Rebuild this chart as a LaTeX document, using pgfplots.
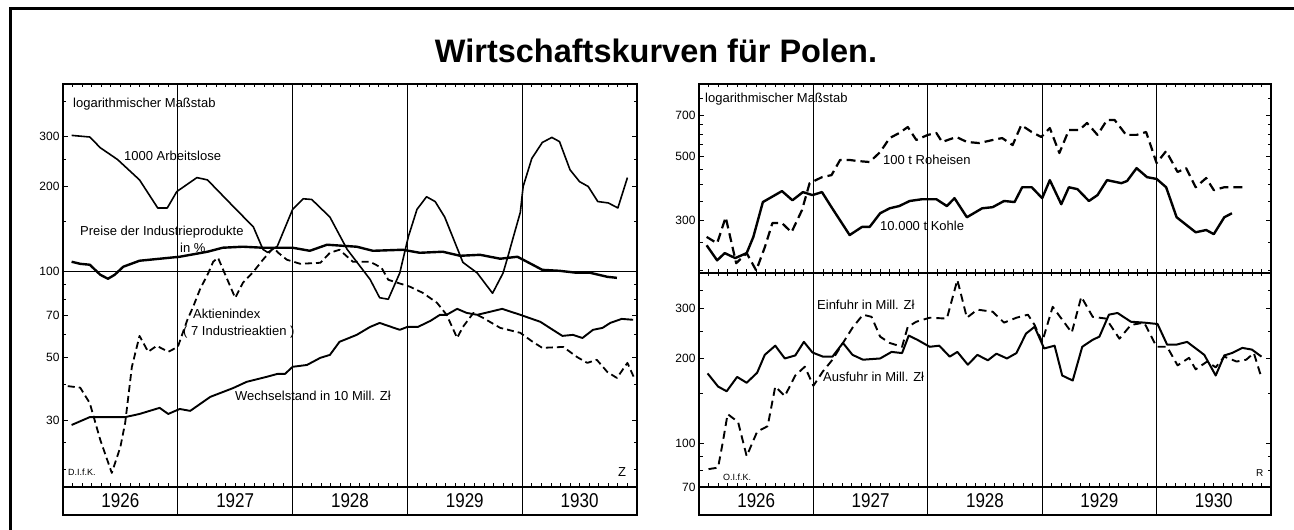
\documentclass[border=0pt]{standalone}
\usepackage{fontspec}
\setmainfont{Liberation Sans}
\usepackage{pgfplots}
\pgfplotsset{compat=1.18}

\tikzset{
  lab/.style={anchor=west, inner sep=0pt, font=\fontsize{13}{13}\selectfont},
  yr/.style={xscale=0.85, font=\fontsize{20}{20}\selectfont},
}

\begin{document}
\begin{tikzpicture}
\path[use as bounding box] (0pt,0pt) rectangle (1294pt,530pt);

% outer frame
\draw[line width=3pt] (10pt,0pt) -- (10pt,521pt) -- (1294pt,521pt);

% title
\node[anchor=base, font=\fontsize{32.5}{32.5}\selectfont\bfseries] at (656pt,467pt) {Wirtschaftskurven für Polen.};

%================ LEFT PANEL =================
\begin{axis}[at={(63pt,43pt)}, anchor=south west,
  scale only axis, clip=false,
  xmin=0, xmax=60, ymode=log,
  width=574pt, height=403pt, ymin=17.4, ymax=460,
  axis line style={line width=1.8pt},
  xtick={12,24,36,48}, xticklabels={}, xmajorgrids,
  major grid style={black, line width=0.9pt},
  minor xtick={1,...,59},
  tick align=inside, major tick length=5pt, minor tick length=3.5pt,
  tick style={black, line width=0.8pt},
  yticklabel style={font=\fontsize{12}{12}\selectfont},
  ytick={30,50,70,200,300}, yticklabels={30,50,70,200,300},
  extra y ticks={100}, extra y tick labels={100},
  extra y tick style={grid=major},
  minor ytick={20,25,40,60,80,90,150,250,400}]
% 1000 Arbeitslose
\addplot[black, no marks, line join=round, line width=1.6pt] coordinates {
(0.9,303) (2.8,299) (3.9,274) (5.7,249) (8.0,211) (9.9,168) (10.9,168) (11.9,192)
(14.0,215) (15.1,211) (17.8,170) (19.9,144) (20.9,120) (21.4,117) (22.4,123)
(24.0,166) (25.1,181) (26.0,180) (27.9,156) (29.7,120) (32.1,94) (33.1,81) (34.0,80)
(35.2,99) (36.1,133) (37.0,166) (38.0,184) (38.9,177) (39.9,156) (41.8,108) (43.3,99)
(44.9,84) (46.0,99) (46.5,113) (47.0,130) (47.8,162) (48.1,200) (49.0,251) (50.1,286)
(51.1,298) (51.9,288) (53.0,229) (54.0,208) (54.9,200) (55.9,177) (57.0,175) (58.0,168)
(59.0,215)};
% Preise der Industrieprodukte
\addplot[black, no marks, line join=round, line width=2.4pt] coordinates {
(0.9,108.5) (1.8,106.7) (2.8,105.9) (3.9,97.6) (4.7,94.5) (5.4,97.6) (6.3,104.2)
(8.0,109.4) (12.2,113.0) (15.1,117.7) (16.7,121.6) (18.8,122.6) (20.9,121.6)
(22.4,121.6) (24.0,121.6) (25.8,118.6) (27.6,124.6) (30.7,122.6) (32.4,118.6)
(35.5,119.6) (37.3,116.7) (39.7,117.7) (41.5,113.9) (43.6,114.8) (45.7,111.2)
(47.5,113.0) (48.5,108.5) (50.1,101.6) (51.9,100.8) (53.7,99.2) (55.1,99.2)
(56.9,96.0) (57.9,95.2)};
% Aktienindex
\addplot[black, no marks, line join=round, line width=1.8pt, dash pattern=on 7pt off 4pt] coordinates {
(0.5,39.5) (1.8,39.0) (2.8,34.4) (3.9,25.5) (5.1,19.5) (6.0,24.1) (6.5,29.3)
(7.2,46.2) (8.0,59.4) (8.9,52.2) (9.8,54.8) (11.0,52.2) (12.0,54.3) (13.0,67.7)
(13.6,75.2) (14.3,86.4) (15.2,99.2) (15.7,108.5) (16.2,112.1) (18.0,80.9) (18.8,91.4)
(19.9,100) (20.9,110.3) (22.0,121.6) (22.5,116.7) (23.4,110.3) (24.8,106.7)
(26.9,107.6) (27.9,116.7) (28.9,119.6) (30.3,108.5) (32.1,108.5) (33.3,103.3)
(34.0,93.7) (36.3,88.5) (37.6,84.3) (39.1,77.7) (40.1,70.5) (41.2,58.4) (41.8,63.9)
(42.9,71.6) (43.9,68.8) (45.7,63.4) (47.8,60.9) (49.1,56.6) (50.1,53.9) (52.3,54.3)
(53.7,50.1) (54.8,47.7) (55.8,48.9) (56.9,44.3) (57.9,42.2) (59.0,47.7) (59.8,41.5)};
% Wechselstand
\addplot[black, no marks, line join=round, line width=1.9pt] coordinates {
(0.9,28.8) (2.8,30.7) (4.9,30.7) (6.5,30.7) (8.0,31.5) (10.1,33.1) (11.0,31.5)
(12.2,32.8) (13.3,32.3) (15.4,36.2) (17.8,38.9) (19.2,40.9) (21.3,42.6) (22.4,43.6)
(23.2,43.6) (24.0,46.2) (25.5,46.9) (26.9,49.7) (27.9,50.9) (28.9,56.6) (30.7,59.9)
(32.1,63.9) (33.1,66.0) (35.2,62.4) (36.0,63.9) (37.1,63.9) (38.4,67.1) (39.4,70.5)
(40.1,70.5) (41.2,74.0) (42.2,71.6) (43.3,70.5) (44.6,72.2) (45.9,74.0) (47.8,70.5)
(49.9,66.6) (51.2,62.4) (52.2,59.4) (53.3,59.9) (54.3,58.4) (55.4,62.4) (56.4,63.4)
(57.2,66.0) (58.4,68.2) (59.6,67.7)};
% year strip
\draw[line width=1.8pt] (rel axis cs:0,0) -- ([yshift=-28pt]rel axis cs:0,0) -- ([yshift=-28pt]rel axis cs:1,0) -- (rel axis cs:1,0);
\draw[line width=0.9pt] (rel axis cs:0.2,0) -- ([yshift=-28pt]rel axis cs:0.2,0);
\draw[line width=0.9pt] (rel axis cs:0.4,0) -- ([yshift=-28pt]rel axis cs:0.4,0);
\draw[line width=0.9pt] (rel axis cs:0.6,0) -- ([yshift=-28pt]rel axis cs:0.6,0);
\draw[line width=0.9pt] (rel axis cs:0.8,0) -- ([yshift=-28pt]rel axis cs:0.8,0);
\node[yr] at ([yshift=-14pt]rel axis cs:0.1,0) {1926};
\node[yr] at ([yshift=-14pt]rel axis cs:0.3,0) {1927};
\node[yr] at ([yshift=-14pt]rel axis cs:0.5,0) {1928};
\node[yr] at ([yshift=-14pt]rel axis cs:0.7,0) {1929};
\node[yr] at ([yshift=-14pt]rel axis cs:0.9,0) {1930};
\end{axis}

%================ RIGHT TOP =================
\begin{axis}[at={(699pt,257pt)}, anchor=south west,
  scale only axis, clip=false,
  xmin=0, xmax=60, ymode=log,
  width=572pt, height=189pt, ymin=196, ymax=898,
  axis line style={line width=1.8pt},
  xtick={12,24,36,48}, xticklabels={}, xmajorgrids,
  major grid style={black, line width=0.9pt},
  minor xtick={1,...,59},
  tick align=inside, major tick length=5pt, minor tick length=3.5pt,
  tick style={black, line width=0.8pt},
  yticklabel style={font=\fontsize{12}{12}\selectfont},
  ytick={300,500,700}, yticklabels={300,500,700},
  minor ytick={200,250,350,400,450,550,600,650,800}]
% 10.000 t Kohle
\addplot[black, no marks, line join=round, line width=2.4pt] coordinates {
(0.8,245) (1.9,217) (2.7,230) (3.8,221) (5.0,230) (5.7,262) (6.7,347) (8.7,379)
(9.8,352) (10.9,376) (11.9,367) (12.9,376) (13.9,333) (15.8,266) (17.1,284) (17.9,284)
(19.0,317) (20.0,330) (21.0,336) (22.1,350) (23.4,355) (24.9,355) (26.0,336) (26.8,358)
(28.1,307) (29.7,330) (30.8,333) (32.0,350) (33.1,347) (33.9,391) (34.9,391) (36.0,358)
(36.8,414) (38.0,341) (38.8,391) (39.7,385) (40.9,350) (41.8,367) (42.8,414) (44.3,404)
(44.9,411) (45.9,456) (47.0,424) (48.0,418) (49.0,391) (50.1,307) (52.1,272) (53.2,277)
(54.0,268) (55.1,307) (55.9,317)};
% 100 t Roheisen
\addplot[black, no marks, line join=round, line width=2.2pt, dash pattern=on 9pt off 5pt] coordinates {
(0.8,262) (1.9,249) (2.8,307) (3.9,212) (5.0,230) (6.0,200) (6.9,241) (7.7,293)
(8.7,293) (9.7,272) (10.8,325) (11.6,404) (12.9,424) (13.9,431) (14.8,487) (15.8,487)
(16.6,483) (17.9,479) (19.0,519) (20.0,581) (21.0,605) (21.9,635) (22.8,572) (24.0,596)
(24.9,605) (25.5,563) (27.0,586) (28.1,563) (29.4,558) (30.8,572) (31.8,581) (32.9,549)
(33.8,645) (34.9,610) (35.9,586) (36.8,630) (37.8,515) (38.8,620) (39.9,620) (40.7,656)
(41.8,596) (42.8,672) (43.6,672) (44.8,596) (45.9,596) (46.9,610) (48.0,475) (49.0,523)
(50.2,442) (51.1,456) (52.1,391) (53.2,421) (54.0,382) (55.1,391) (57.0,391)};
\end{axis}

%================ RIGHT BOTTOM =================
\begin{axis}[at={(699pt,43pt)}, anchor=south west,
  scale only axis, clip=false,
  xmin=0, xmax=60, ymode=log,
  width=572pt, height=214pt, ymin=70, ymax=402,
  axis line style={line width=1.8pt},
  xtick={12,24,36,48}, xticklabels={}, xmajorgrids,
  major grid style={black, line width=0.9pt},
  minor xtick={1,...,59},
  tick align=inside, major tick length=5pt, minor tick length=3.5pt,
  tick style={black, line width=0.8pt},
  yticklabel style={font=\fontsize{12}{12}\selectfont},
  ytick={70,100,200,300}, yticklabels={70,100,200,300},
  minor ytick={80,90,150,250,350}]
% Ausfuhr
\addplot[black, no marks, line join=round, line width=2pt] coordinates {
(0.9,177) (2.0,159) (2.9,153) (4.0,172) (5.0,164) (6.1,178) (6.9,206) (8.0,222)
(9.0,200) (10.1,205) (11.0,229) (11.9,210) (13.0,203) (14.0,203) (15.1,227) (16.1,206)
(17.2,198) (19.0,200) (20.2,211) (21.3,209) (22.0,241) (22.9,233) (24.2,220) (25.2,222)
(26.3,203) (27.1,211) (28.2,190) (29.2,206) (30.3,197) (31.2,208) (32.3,200) (33.3,209)
(34.3,245) (35.2,259) (36.2,217) (37.3,222) (38.1,174) (39.2,167) (40.2,220) (41.3,233)
(42.0,239) (43.0,286) (43.9,290) (45.3,270) (46.7,268) (48.1,265) (49.1,224) (50.1,224)
(51.2,229) (53.0,206) (54.2,174) (55.1,205) (55.9,209) (57.0,218) (58.0,215) (59.0,203)};
% Einfuhr
\addplot[black, no marks, line join=round, line width=1.9pt, dash pattern=on 8pt off 5pt] coordinates {
(1.0,81) (2.0,82) (2.5,101) (3.0,127) (4.1,119) (5.0,90) (6.1,110) (7.2,115) (8.0,159)
(9.0,147) (10.1,174) (11.1,187) (12.0,160) (13.0,180) (14.0,198) (15.1,227) (16.1,257)
(17.2,286) (18.1,281) (19.0,239) (20.0,227) (21.3,220) (21.9,259) (22.8,270) (24.2,279)
(26.0,277) (27.1,380) (28.1,279) (29.2,298) (30.8,293) (32.0,268) (33.3,279) (34.5,286)
(35.2,263) (36.0,229) (37.1,305) (39.1,247) (40.1,331) (41.3,281) (42.7,277) (44.1,235)
(45.3,263) (46.7,268) (48.0,220) (49.1,220) (50.2,189) (51.4,201) (52.1,183) (53.3,195)
(54.2,186) (55.1,203) (56.4,195) (57.4,198) (58.2,209) (59.0,171)};
% year strip
\draw[line width=1.8pt] (rel axis cs:0,0) -- ([yshift=-28pt]rel axis cs:0,0) -- ([yshift=-28pt]rel axis cs:1,0) -- (rel axis cs:1,0);
\draw[line width=0.9pt] (rel axis cs:0.2,0) -- ([yshift=-28pt]rel axis cs:0.2,0);
\draw[line width=0.9pt] (rel axis cs:0.4,0) -- ([yshift=-28pt]rel axis cs:0.4,0);
\draw[line width=0.9pt] (rel axis cs:0.6,0) -- ([yshift=-28pt]rel axis cs:0.6,0);
\draw[line width=0.9pt] (rel axis cs:0.8,0) -- ([yshift=-28pt]rel axis cs:0.8,0);
\node[yr] at ([yshift=-14pt]rel axis cs:0.1,0) {1926};
\node[yr] at ([yshift=-14pt]rel axis cs:0.3,0) {1927};
\node[yr] at ([yshift=-14pt]rel axis cs:0.5,0) {1928};
\node[yr] at ([yshift=-14pt]rel axis cs:0.7,0) {1929};
\node[yr] at ([yshift=-14pt]rel axis cs:0.9,0) {1930};
\end{axis}

% ---------- series labels ----------
\node[lab] at (73pt,426pt) {logarithmischer Maßstab};
\node[lab] at (124pt,374pt) {1000 Arbeitslose};
\node[lab] at (80pt,298pt) {Preise der Industrieprodukte};
\node[lab] at (180pt,282pt) {in \%};
\node[lab] at (193pt,216pt) {Aktienindex};
\node[lab] at (183pt,198pt) {( 7 Industrieaktien )};
\node[lab] at (235pt,134pt) {Wechselstand in 10 Mill. Zł};
\node[lab, font=\fontsize{9}{9}\selectfont] at (68pt,58pt) {D.I.f.K.};
\node[lab] at (618pt,58pt) {Z};

\node[lab] at (705pt,431pt) {logarithmischer Maßstab};
\node[lab] at (883pt,370pt) {100 t Roheisen};
\node[lab] at (880pt,304pt) {10.000 t Kohle};
\node[lab] at (817pt,225pt) {Einfuhr in Mill. Zł};
\node[lab] at (823pt,153pt) {Ausfuhr in Mill. Zł};
\node[lab, font=\fontsize{9}{9}\selectfont] at (723pt,53pt) {O.I.f.K.};
\node[lab, font=\fontsize{10}{10}\selectfont] at (1256pt,57pt) {R};
\end{tikzpicture}
\end{document}
